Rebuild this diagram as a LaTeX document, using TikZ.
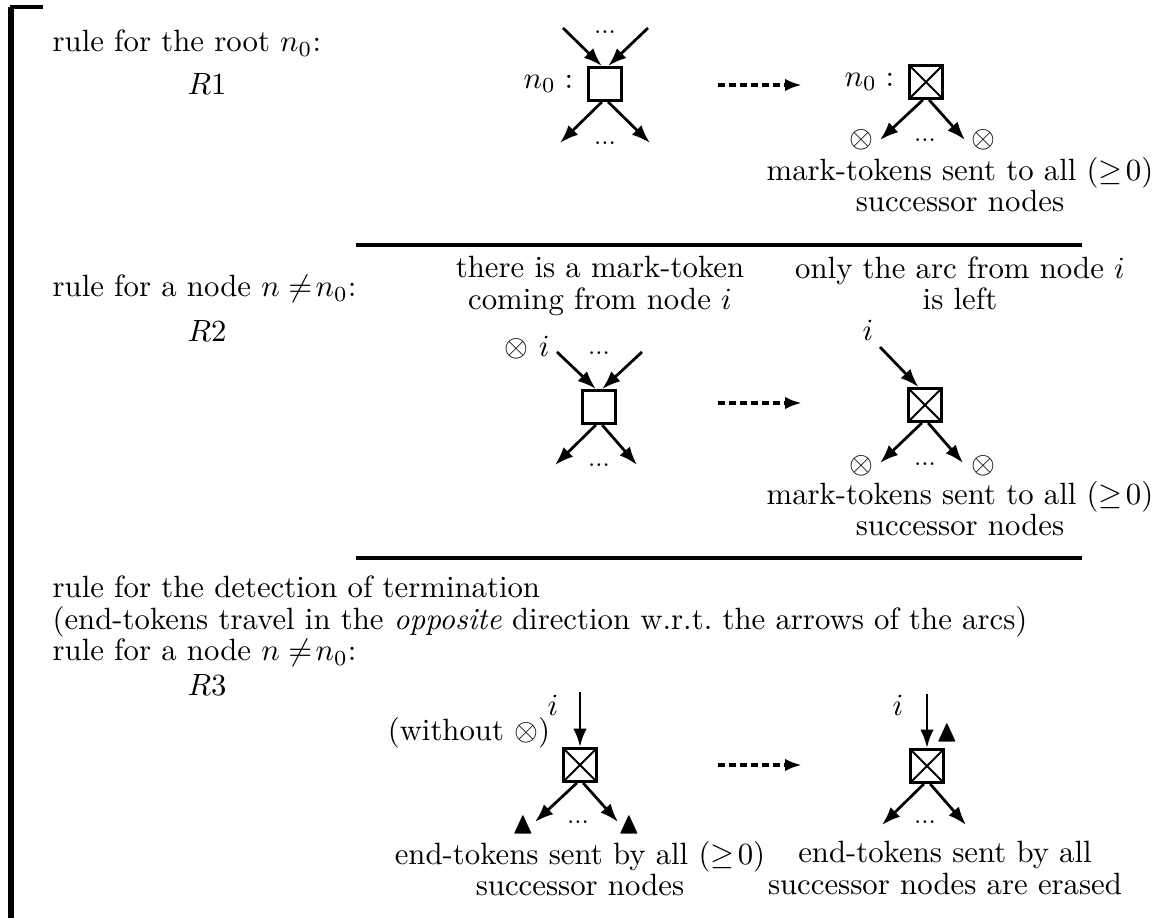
\documentclass[tikz,border=0pt]{standalone}
\usepackage{amsmath, amssymb}
\usetikzlibrary{arrows.meta,positioning,calc}

\newcommand{\dts}{{\footnotesize ...}}

\tikzset{
  cell/.style={draw, line width=1pt, minimum size=10.7pt, inner sep=0pt},
  marked/.style={cell, path picture={
      \draw[semithick] (path picture bounding box.north west) -- (path picture bounding box.south east)
                       (path picture bounding box.north east) -- (path picture bounding box.south west);}},
  arc/.style={line width=0.9pt, -{Latex[length=6pt,width=4.4pt]}},
  rewrite/.style={line width=1.1pt, dash pattern=on 2.3pt off 1.3pt, -{Latex[length=5.5pt,width=4pt]}},
  txt/.style={inner sep=0pt},
  lines/.style={inner sep=0pt, align=center, anchor=north, execute at begin node=\strut},
}

\begin{document}
\begin{tikzpicture}[x=0.325pt, y=-0.325pt]
  \useasboundingbox (0,0) rectangle (1173,918);
  %
  % frame and separators
  \draw[line width=2pt] (11,918) -- (11,7);
  \draw[line width=1.1pt] (10,7) -- (43,7);
  \draw[line width=1.2pt] (356,245) -- (1082,245);
  \draw[line width=1.2pt] (356,558) -- (1082,558);
  %
  % left column
  \node[txt, anchor=base west] (t1) at (52,52) {rule for the root $n_0$:};
  \node[txt, anchor=base west] (r1) at (187,95) {$R1$};
  \node[txt, anchor=base west] (t2) at (52,297) {rule for a node $n \neq\! n_0$:};
  \node[txt, anchor=base west] (r2) at (187,342) {$R2$};
  \node[txt, anchor=base west] (t3) at (52,598) {rule for the detection of termination};
  \node[txt, anchor=base west] (t4) at (52,630) {(end-tokens travel in the \emph{opposite} direction w.r.t.\ the arrows of the arcs)};
  \node[txt, anchor=base west] (t5) at (52,661) {rule for a node $n \neq\! n_0$:};
  \node[txt, anchor=base west] (r3) at (187,696) {$R3$};
  %
  % R1
  \node[cell] (a1) at (605,84) {};
  \node[left=1pt of a1] (a1lab) {$n_0:$};
  \coordinate (a1i) at (563,28);
  \coordinate (a1j) at (648,28);
  \coordinate (a1o) at (560,143);
  \coordinate (a1p) at (650,143);
  \draw[arc] (a1i) -- (a1.100);
  \draw[arc] (a1j) -- (a1.80);
  \draw[arc] (a1.260) -- (a1o);
  \draw[arc] (a1.280) -- (a1p);
  \node[txt, anchor=base] (a1d) at (605,34) {\dts};
  \node[txt, anchor=base] (a1e) at (605,145) {\dts};
  %
  \coordinate (s1) at (718,85);
  \coordinate (e1) at (802,85);
  \draw[rewrite] (s1) -- (e1);
  %
  \node[marked] (b1) at (926,82) {};
  \node[left=1pt of b1] (b1lab) {$n_0:$};
  \coordinate (b1o) at (880,140);
  \coordinate (b1p) at (965,140);
  \draw[arc] (b1.260) -- (b1o);
  \draw[arc] (b1.280) -- (b1p);
  \node[txt] (b1m) at (861,140) {$\otimes$};
  \node[txt] (b1n) at (983,140) {$\otimes$};
  \node[txt, anchor=base] (b1e) at (925,142) {\dts};
  \node[lines] at (960,157) (b1t) {mark-tokens sent to all $(\geq\! 0)$\\[-1.9pt] successor nodes};
  %
  % R2
  \node[lines] (h2a) at (600,256) {there is a mark-token\\[-1.9pt] coming from node $i$};
  \node[lines] (h2b) at (960,256) {only the arc from node $i$\\[-1.9pt] is left};
  %
  \node[cell] (a2) at (599,407) {};
  \coordinate (a2i) at (557,352);
  \coordinate (a2j) at (642,352);
  \coordinate (a2o) at (555,465);
  \coordinate (a2p) at (637,465);
  \draw[arc] (a2i) -- (a2.100);
  \draw[arc] (a2j) -- (a2.80);
  \draw[arc] (a2.260) -- (a2o);
  \draw[arc] (a2.280) -- (a2p);
  \node[txt, anchor=base] (a2m) at (527,357) {$\otimes$ $i$};
  \node[txt, anchor=base] (a2d) at (599,355) {\dts};
  \node[txt, anchor=base] (a2e) at (599,467) {\dts};
  %
  \coordinate (s2) at (718,403);
  \coordinate (e2) at (802,403);
  \draw[rewrite] (s2) -- (e2);
  %
  \node[marked] (b2) at (925,405) {};
  \coordinate (b2i) at (880,347);
  \draw[arc] (b2i) -- (b2.110);
  \node[txt] (b2lab) at (868,330) {$i$};
  \coordinate (b2o) at (880,463);
  \coordinate (b2p) at (963,463);
  \draw[arc] (b2.260) -- (b2o);
  \draw[arc] (b2.280) -- (b2p);
  \node[txt] (b2m) at (861,466) {$\otimes$};
  \node[txt] (b2n) at (983,466) {$\otimes$};
  \node[txt, anchor=base] (b2e) at (925,466) {\dts};
  \node[lines] (b2t) at (960,481) {mark-tokens sent to all $(\geq\! 0)$\\[-1.9pt] successor nodes};
  %
  % R3
  \node[marked] (a3) at (580,765) {};
  \coordinate (a3i) at (580,692);
  \draw[arc] (a3i) -- (a3.north);
  \node[txt] (a3lab) at (553,705) {$i$};
  \node[txt] (a3w) at (469,733) {(without $\otimes$)};
  \coordinate (a3o) at (535,822);
  \coordinate (a3p) at (618,822);
  \draw[arc] (a3.260) -- (a3o);
  \draw[arc] (a3.280) -- (a3p);
  \node[txt] (a3m) at (523,825) {$\blacktriangle$};
  \node[txt] (a3n) at (629,825) {$\blacktriangle$};
  \node[txt, anchor=base] (a3e) at (578,824) {\dts};
  \node[lines] (a3t) at (580,841) {end-tokens sent by all $(\geq\! 0)$\\[-1.9pt] successor nodes};
  %
  \coordinate (s3) at (718,765);
  \coordinate (e3) at (802,765);
  \draw[rewrite] (s3) -- (e3);
  %
  \node[marked] (b3) at (927,766) {};
  \coordinate (b3i) at (927,694);
  \draw[arc] (b3i) -- (b3.north);
  \node[txt] (b3lab) at (898,705) {$i$};
  \node[txt] (b3m) at (947,733) {$\blacktriangle$};
  \coordinate (b3o) at (882,825);
  \coordinate (b3p) at (966,825);
  \draw[arc] (b3.260) -- (b3o);
  \draw[arc] (b3.280) -- (b3p);
  \node[txt, anchor=base] (b3e) at (925,824) {\dts};
  \node[lines] (b3t) at (945,841) {end-tokens sent by all\\[-1.9pt] successor nodes are erased};
  %
\end{tikzpicture}
\end{document}
